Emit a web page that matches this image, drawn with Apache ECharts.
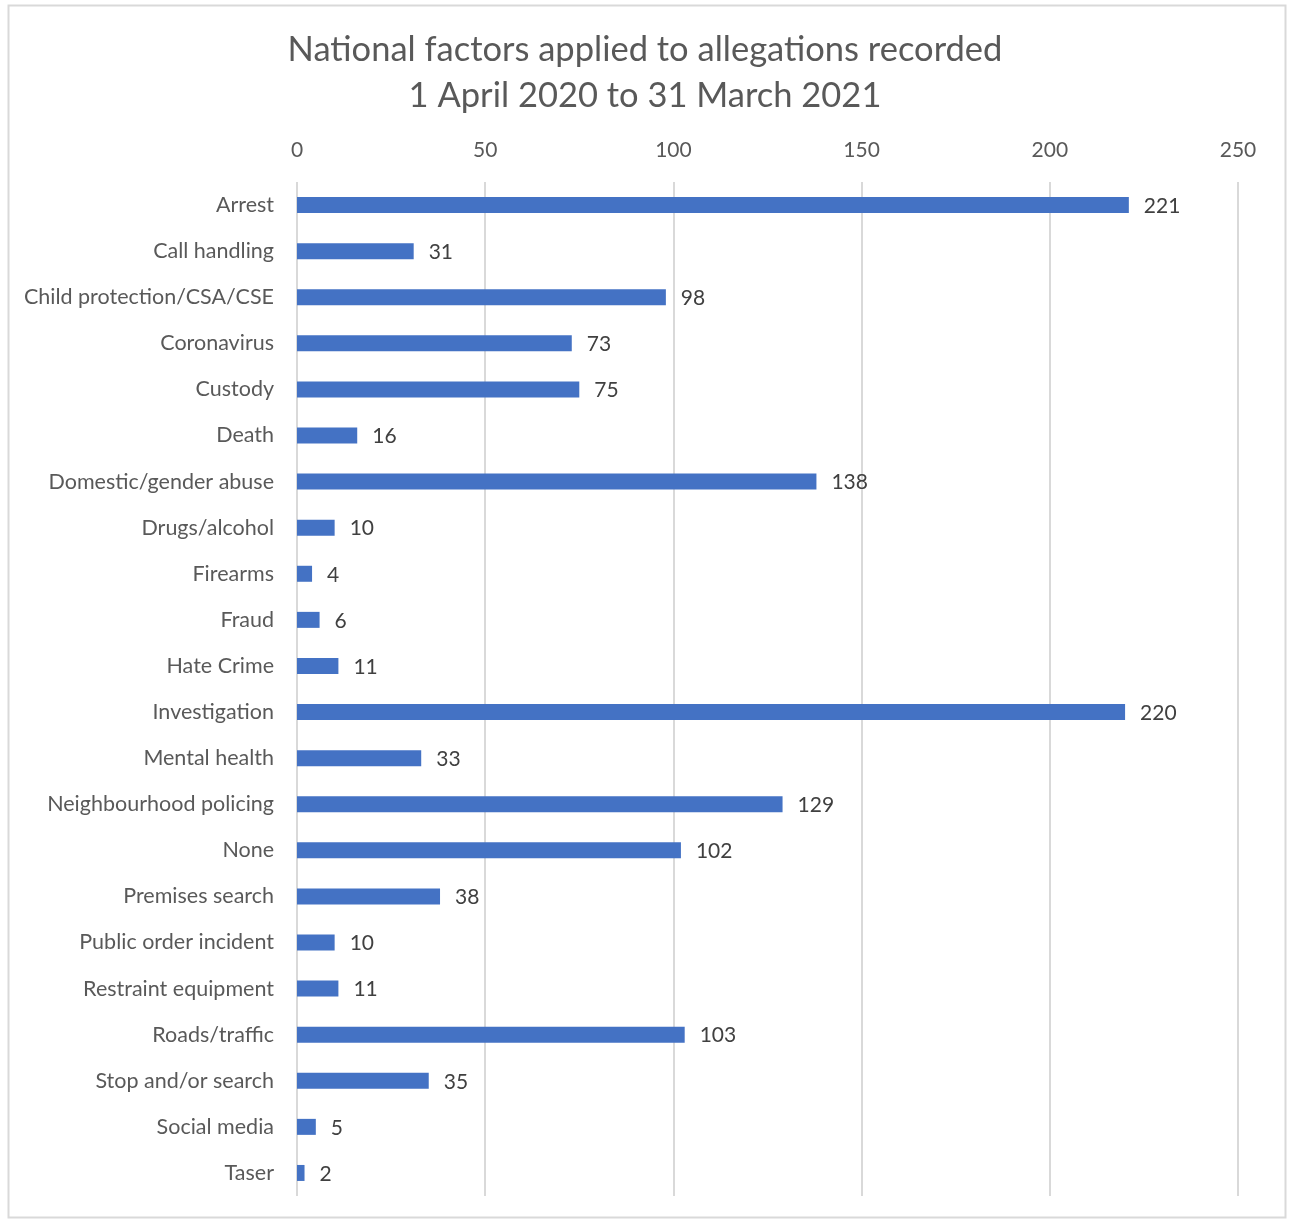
<!DOCTYPE html>
<html>
<head>
<meta charset="utf-8">
<script src="https://cdn.jsdelivr.net/npm/echarts@6/dist/echarts.min.js"></script>
<style>
  html, body { margin: 0; padding: 0; background: #fff; }
  #main { width: 1290px; height: 1221px; }
</style>
</head>
<body>
<div id="main"></div>
<script>
  // 分类和数值
  var categories = ['Arrest', 'Call handling', 'Child protection/CSA/CSE', 'Coronavirus', 'Custody',
    'Death', 'Domestic/gender abuse', 'Drugs/alcohol', 'Firearms', 'Fraud', 'Hate Crime',
    'Investigation', 'Mental health', 'Neighbourhood policing', 'None', 'Premises search',
    'Public order incident', 'Restraint equipment', 'Roads/traffic', 'Stop and/or search',
    'Social media', 'Taser'];
  var counts = [221, 31, 98, 73, 75, 16, 138, 10, 4, 6, 11, 220, 33, 129, 102, 38, 10, 11, 103, 35, 5, 2];
  var tickMin = 0, tickMax = 250, tickStep = 50;

  var chart = echarts.init(document.getElementById('main'));
  var font = 'Lato, "Open Sans", sans-serif';

  var option = {
    animation: false,
    textStyle: { fontFamily: font },
    title: {
      text: 'National factors applied to allegations recorded\n1 April 2020 to 31 March 2021',
      left: 'center',
      top: 22,
      textStyle: { fontSize: 34.5, fontWeight: 'normal', color: '#595959', lineHeight: 46, fontFamily: font }
    },
    graphic: [{
      type: 'rect',
      shape: { x: 8.5, y: 5.5, width: 1277, height: 1212 },
      style: { fill: 'none', stroke: '#d9d9d9', lineWidth: 2 },
      silent: true
    }],
    grid: { left: 297, right: 52, top: 182, bottom: 25, containLabel: false },
    xAxis: {
      type: 'value',
      position: 'top',
      min: tickMin,
      max: tickMax,
      interval: tickStep,
      axisLine: { show: false },
      axisTick: { show: false },
      axisLabel: { fontSize: 21, color: '#595959', margin: 21 },
      splitLine: { show: true, lineStyle: { color: '#d9d9d9', width: 2 } }
    },
    yAxis: {
      type: 'category',
      inverse: true,
      data: categories,
      axisLine: { show: false },
      axisTick: { show: false },
      axisLabel: { fontSize: 21.5, color: '#595959', margin: 23 }
    },
    series: [{
      type: 'bar',
      data: counts,
      barWidth: 16,
      itemStyle: { color: '#4472c4' },
      label: {
        show: true,
        position: 'right',
        distance: 15,
        fontSize: 21,
        color: '#404040',
        offset: [0, 1]
      }
    }]
  };

  chart.setOption(option);
</script>
</body>
</html>
